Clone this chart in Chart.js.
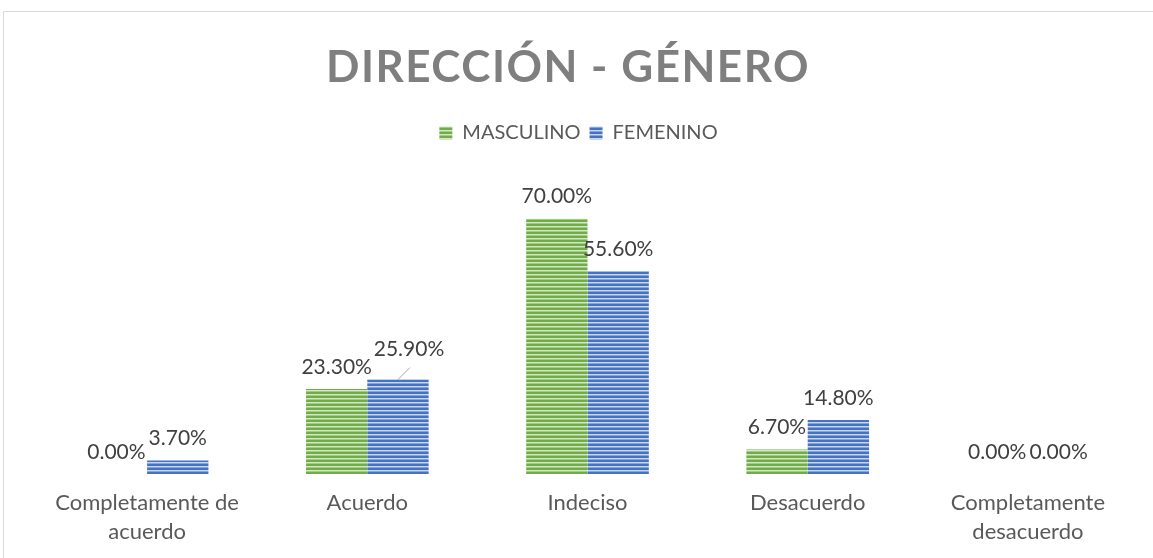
<!DOCTYPE html>
<html>
<head>
<meta charset="utf-8">
<script src="https://cdn.jsdelivr.net/npm/chart.js@4.4.1/dist/chart.umd.min.js"></script>
<style>
  html, body { margin: 0; padding: 0; background: #fff; }
  #wrap { position: absolute; left: 0; top: 0; width: 1153px; height: 558px; }
</style>
</head>
<body>
<div id="wrap"><canvas id="chart" width="1153" height="558"></canvas></div>
<script>
const chartTitle = 'DIRECCIÓN - GÉNERO';
const categories = [
  ['Completamente de', 'acuerdo'],
  'Acuerdo',
  'Indeciso',
  'Desacuerdo',
  ['Completamente', 'desacuerdo']
];
const seriesNames = ['MASCULINO', 'FEMENINO'];
const masculino = [0.0, 23.3, 70.0, 6.7, 0.0];
const femenino = [3.7, 25.9, 55.6, 14.8, 0.0];

// striped fill like the office "horizontal lines" pattern
function stripes(dark, light) {
  const c = document.createElement('canvas')
  c.width = 4
  c.height = 4
  const g = c.getContext('2d')
  g.fillStyle = dark
  g.fillRect(0, 0, 4, 4)
  g.fillStyle = light
  g.fillRect(0, 2, 4, 1)
  g.globalAlpha = 0.5
  g.fillRect(0, 3, 4, 1)
  return g.createPattern(c, 'repeat')
}
const ctx0 = document.getElementById('chart').getContext('2d')
const greenFill = stripes('#70ad47', '#d4e8c7')
const blueFill = stripes('#4472c4', '#c9d6ee')

const frame = {
  id: 'frame',
  beforeDraw(chart) {
    const ctx = chart.ctx
    ctx.save()
    ctx.strokeStyle = '#d9d9d9'
    ctx.lineWidth = 1
    ctx.beginPath()
    ctx.moveTo(3.5, 558)
    ctx.lineTo(3.5, 11.5)
    ctx.lineTo(1153, 11.5)
    ctx.stroke()
    ctx.restore()
  }
}

const spacedTitle = {
  id: 'spacedTitle',
  afterDraw(chart) {
    const ctx = chart.ctx
    ctx.save()
    ctx.font = 'bold 44px Lato'
    ctx.letterSpacing = '1.5px'
    ctx.fillStyle = '#7f7f7f'
    ctx.textAlign = 'center'
    ctx.textBaseline = 'alphabetic'
    ctx.fillText(chartTitle, 568, 82)
    ctx.restore()
  }
}

const valueLabels = {
  id: 'valueLabels',
  afterDatasetsDraw(chart) {
    const ctx = chart.ctx
    ctx.save()
    ctx.font = '21px Lato'
    ctx.fillStyle = '#404040'
    ctx.textAlign = 'center'
    ctx.textBaseline = 'middle'
    chart.data.datasets.forEach((ds, di) => {
      chart.getDatasetMeta(di).data.forEach((bar, i) => {
        const txt = ds.data[i].toFixed(2) + '%'
        let x = bar.x
        let y = bar.y - 22
        // Excel moved this one aside and drew a leader line
        if (di === 1 && i === 1) {
          x += 11
          y -= 8
          ctx.strokeStyle = '#a6a6a6'
          ctx.lineWidth = 1
          ctx.beginPath()
          ctx.moveTo(bar.x, bar.y)
          ctx.lineTo(bar.x + 12, bar.y - 12)
          ctx.stroke()
        }
        ctx.fillText(txt, x, y)
      })
    })
    ctx.restore()
  }
}

new Chart(ctx0, {
  type: 'bar',
  data: {
    labels: categories,
    datasets: [
      { label: seriesNames[0], data: masculino, backgroundColor: greenFill },
      { label: seriesNames[1], data: femenino, backgroundColor: blueFill }
    ]
  },
  options: {
    responsive: false,
    animation: false,
    layout: { padding: { top: 114, left: 19, right: 15, bottom: 0 } },
    datasets: {
      bar: { barPercentage: 1, categoryPercentage: 0.557 }
    },
    scales: {
      x: {
        grid: { display: false, drawTicks: false },
        border: { display: false },
        ticks: {
          color: '#595959',
          font: { family: 'Lato', size: 22, lineHeight: 1.32 },
          padding: 14.5,
          maxRotation: 0,
          autoSkip: false
        },
        afterFit(scale) { scale.height = 84 }
      },
      y: {
        min: 0,
        max: 88,
        grid: { display: false },
        border: { display: false },
        ticks: { display: false },
        afterFit(scale) { scale.width = 18 }
      }
    },
    plugins: {
      legend: {
        position: 'top',
        labels: {
          boxWidth: 13,
          boxHeight: 13,
          padding: 9,
          color: '#595959',
          font: { family: 'Lato', size: 20 }
        }
      },
      tooltip: { enabled: false }
    }
  },
  plugins: [frame, spacedTitle, valueLabels]
})
</script>
</body>
</html>
